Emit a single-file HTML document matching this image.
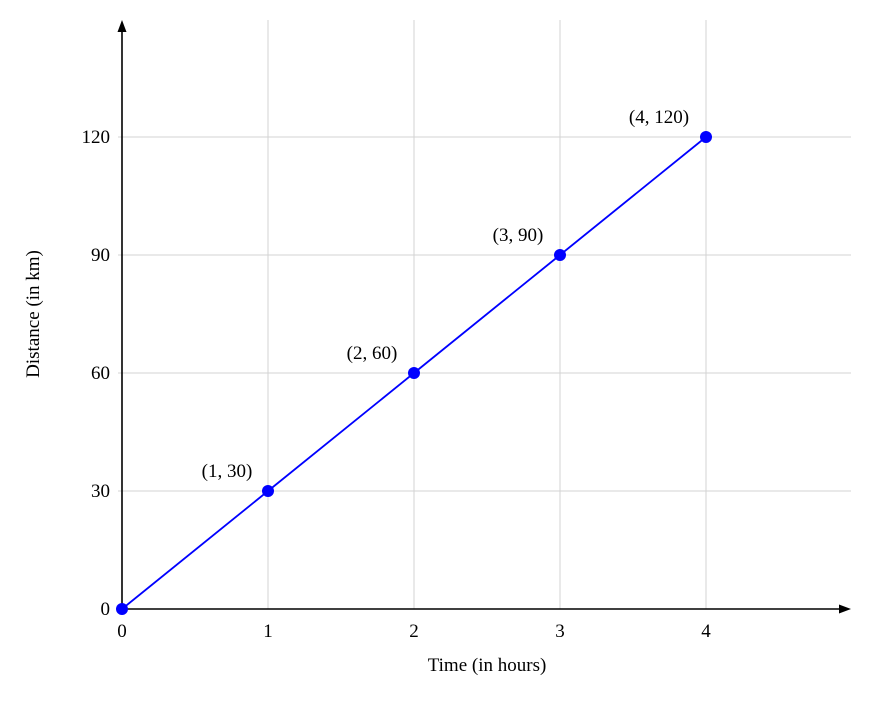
<!DOCTYPE html>
<html><head><style>body{margin:0;background:#fff}</style></head><body>
<svg width="872" height="698" xmlns="http://www.w3.org/2000/svg" font-family="Liberation Serif, serif" font-size="19">
<g stroke="#d3d3d3" stroke-width="1">
<line x1="268" y1="20" x2="268" y2="609"/><line x1="414" y1="20" x2="414" y2="609"/>
<line x1="560" y1="20" x2="560" y2="609"/><line x1="706" y1="20" x2="706" y2="609"/>
<line x1="118" y1="491" x2="851" y2="491"/><line x1="118" y1="373" x2="851" y2="373"/>
<line x1="118" y1="255" x2="851" y2="255"/><line x1="118" y1="137" x2="851" y2="137"/>
</g>
<g stroke="#000" stroke-width="1.6">
<line x1="122" y1="613" x2="122" y2="28"/><line x1="118" y1="609" x2="843" y2="609"/>
</g>
<polygon points="122,20 117.5,32 126.5,32" fill="#000"/>
<polygon points="851,609 839,604.5 839,613.5" fill="#000"/>
<polyline points="122,609 268,491 414,373 560,255 706,137" fill="none" stroke="#0000ff" stroke-width="1.8"/>
<g fill="#0000ff"><circle cx="122" cy="609" r="6"/><circle cx="268" cy="491" r="6"/><circle cx="414" cy="373" r="6"/><circle cx="560" cy="255" r="6"/><circle cx="706" cy="137" r="6"/></g>
<g text-anchor="middle">
<text x="122" y="637">0</text><text x="268" y="637">1</text><text x="414" y="637">2</text><text x="560" y="637">3</text><text x="706" y="637">4</text>
<text x="487" y="671">Time (in hours)</text>
<text x="227" y="477">(1, 30)</text><text x="372" y="359">(2, 60)</text><text x="518" y="241">(3, 90)</text><text x="659" y="123">(4, 120)</text>
</g>
<g text-anchor="end">
<text x="110" y="615">0</text><text x="110" y="497">30</text><text x="110" y="379">60</text><text x="110" y="261">90</text><text x="110" y="143">120</text>
</g>
<text transform="translate(39,314) rotate(-90)" text-anchor="middle">Distance (in km)</text>
</svg>
</body></html>
